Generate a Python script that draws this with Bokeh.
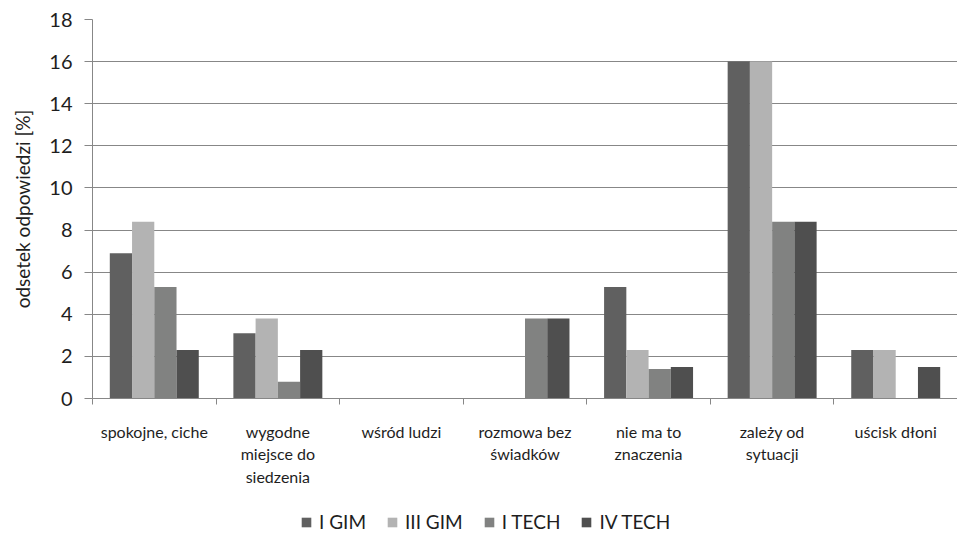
from bokeh.plotting import figure
from bokeh.models import (ColumnDataSource, Range1d, FixedTicker, Legend, LegendItem)
from bokeh.layouts import column
from bokeh.transform import dodge
from bokeh.embed import file_html
from bokeh.resources import INLINE

categories = ["spokojne, ciche", "wygodne\nmiejsce do\nsiedzenia", "wśród ludzi",
              "rozmowa bez\nświadków", "nie ma to\nznaczenia", "zależy od\nsytuacji", "uścisk dłoni"]
series_names = ["I GIM", "III GIM", "I TECH", "IV TECH"]
i_gim = [6.9, 3.1, 0.0, 0.0, 5.3, 16.0, 2.3]
iii_gim = [8.4, 3.8, 0.0, 0.0, 2.3, 16.0, 2.3]
i_tech = [5.3, 0.8, 0.0, 3.8, 1.4, 8.4, 0.0]
iv_tech = [2.3, 2.3, 0.0, 3.8, 1.5, 8.4, 1.5]
y_ticks = [0, 2, 4, 6, 8, 10, 12, 14, 16, 18]

colors = ["#606060", "#b3b3b3", "#818281", "#4f4f4f"]
FONT = "Lato"
TXT = "#1e1e1e"
GRID = "#878787"
W = 957

centers = [i + 0.5 for i in range(len(categories))]
source = ColumnDataSource(dict(x=centers, s0=i_gim, s1=iii_gim, s2=i_tech, s3=iv_tech))

p = figure(width=W, height=500, output_backend="svg", toolbar_location=None,
           x_range=Range1d(0, len(categories)), y_range=Range1d(0, 18),
           min_border_left=92, min_border_right=0, min_border_top=19, min_border_bottom=102)
p.outline_line_color = None
p.background_fill_color = "white"

bw = 0.18
for j, name in enumerate(series_names):
    p.vbar(x=dodge("x", (j - 1.5) * bw, range=p.x_range), top="s%d" % j, width=bw,
           source=source, fill_color=colors[j], line_color=None)

# x axis
xa = p.xaxis[0]
xa.ticker = FixedTicker(ticks=centers, minor_ticks=list(range(len(categories) + 1)))
xa.major_label_overrides = {c: lab for c, lab in zip(centers, categories)}
xa.major_tick_line_color = None
xa.major_tick_in = 0
xa.major_tick_out = 0
xa.minor_tick_in = 0
xa.minor_tick_out = 6
xa.minor_tick_line_color = GRID
xa.axis_line_color = GRID
xa.major_label_standoff = 17
xa.major_label_text_font = FONT
xa.major_label_text_font_size = "16px"
xa.major_label_text_color = TXT
p.xgrid.visible = False

# y axis
ya = p.yaxis[0]
ya.ticker = FixedTicker(ticks=y_ticks)
ya.axis_line_color = GRID
ya.major_tick_line_color = GRID
ya.major_tick_in = 0
ya.major_tick_out = 8
ya.minor_tick_line_color = None
ya.major_label_standoff = 12
ya.major_label_text_font = FONT
ya.major_label_text_font_size = "20px"
ya.major_label_text_color = TXT
ya.axis_label = "odsetek odpowiedzi [%]"
ya.axis_label_text_font = FONT
ya.axis_label_text_font_size = "19px"
ya.axis_label_text_font_style = "normal"
ya.axis_label_text_color = TXT
ya.axis_label_standoff = 12
p.ygrid.grid_line_color = GRID
p.ygrid.grid_line_width = 1

# legend strip below the chart (series drawn out of its visible range, only the legend shows)
pl = figure(width=W, height=34, output_backend="svg", toolbar_location=None,
            x_range=p.x_range, y_range=Range1d(100, 101),
            x_axis_type=None, y_axis_type=None, min_border=0)
pl.outline_line_color = None
pl.grid.visible = False
items = []
for j, name in enumerate(series_names):
    r = pl.vbar(x=dodge("x", (j - 1.5) * bw, range=pl.x_range), top="s%d" % j, width=bw,
                source=source, fill_color=colors[j], line_color=None)
    items.append(LegendItem(label=name, renderers=[r]))
legend = Legend(items=items, orientation="horizontal", location=(208, 1),
                glyph_width=12, glyph_height=12, label_standoff=7, spacing=20,
                padding=0, margin=0, border_line_color=None, background_fill_alpha=0,
                label_text_font=FONT, label_text_font_size="19px", label_text_color=TXT,
                label_height=12)
pl.add_layout(legend, "center")

layout = column(p, pl, spacing=0)
open("out.html", "w").write(file_html(layout, INLINE))
